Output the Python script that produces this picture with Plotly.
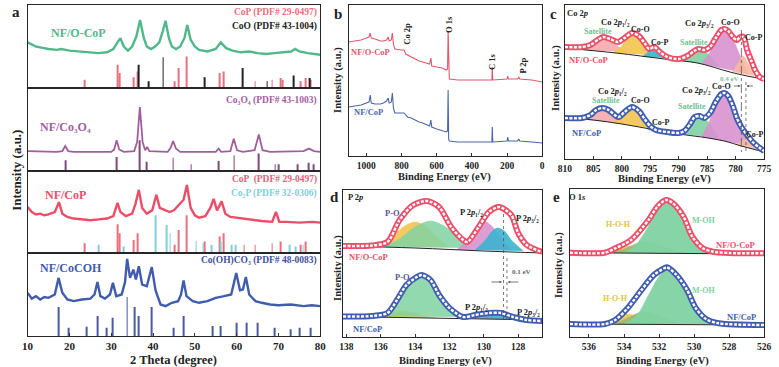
import plotly.graph_objects as go

SERIF = "Liberation Serif, DejaVu Serif, Times New Roman, serif"
W, H = 779, 367

# ================= DATA =================
# ---- Panel a: XRD, (2theta, relative intensity inside each strip 0..1)
two_theta_ticks = [10, 20, 30, 40, 50, 60, 70, 80]

xrd_ocop = [(10, .55), (11, .52), (12, .5), (13, .49), (15, .47), (17, .46), (18, .47), (20, .45), (22, .44),
            (25, .43), (27, .42), (29, .43), (30.5, .47), (31.5, .55), (32.2, .6), (33, .5), (34, .45), (35, .5),
            (36, .62), (36.9, .82), (37.8, .6), (38.5, .5), (39.5, .47), (40.5, .5), (41.5, .55), (42.3, .68),
            (43, .81), (43.8, .6), (44.5, .5), (45.5, .47), (46.5, .5), (47.5, .6), (48.2, .76), (49, .58),
            (50, .5), (51, .46), (52, .45), (53, .44), (55, .47), (56.2, .55), (57.5, .48), (59, .45), (61, .43),
            (63, .44), (65, .42), (67, .41), (69, .42), (71, .43), (73, .44), (74, .47), (75, .44), (77, .42),
            (79, .41), (80, .4)]
xrd_co3o4 = [(10, .24), (17, .23), (18.3, .24), (19, .3), (19.7, .24), (21, .23), (30, .23), (30.7, .26),
             (31.3, .37), (31.9, .26), (33, .23), (35.5, .24), (36.2, .35), (36.85, .77), (37.5, .35), (38.1, .25),
             (38.6, .29), (39.1, .24), (43.5, .23), (44.2, .28), (44.8, .36), (45.5, .27), (46.5, .23), (55, .23),
             (55.7, .27), (56.3, .23), (58.5, .24), (59.3, .39), (60.1, .25), (61.5, .23), (64.3, .25), (65.3, .44),
             (66.2, .25), (68, .23), (76, .24), (77.3, .27), (78.5, .24), (80, .23)]
xrd_cop = [(10, .56), (11, .5), (12, .47), (13, .48), (14, .46), (15, .47), (16.5, .5), (17.5, .62), (18.3, .48),
           (19.5, .44), (21, .42), (23, .41), (25, .4), (27, .41), (29, .42), (30.5, .45), (31.5, .61), (32.2, .5),
           (33.5, .45), (35, .48), (35.8, .6), (36.6, .77), (37.4, .55), (38.5, .48), (39.8, .52), (40.8, .71),
           (41.6, .55), (43, .52), (44, .5), (45, .52), (46, .58), (47.3, .65), (48.1, .83), (49, .55), (50, .46),
           (51, .43), (52.5, .45), (53.7, .55), (54.5, .66), (55.3, .52), (56.4, .63), (57.3, .48), (58.5, .44),
           (60, .43), (62, .42), (64, .4), (66, .39), (68.5, .38), (69.4, .5), (70.2, .38), (72, .38), (75, .37),
           (78, .38), (80, .37)]
xrd_cocoh = [(10, .52), (11, .45), (12, .48), (13, .44), (14, .47), (15, .46), (16.5, .5), (17.4, .7), (18.3, .52),
             (19.5, .44), (21, .42), (23, .44), (25, .45), (26, .5), (26.7, .65), (27.4, .48), (28.5, .45),
             (29.7, .5), (30.4, .64), (31.2, .48), (32.5, .5), (33.3, .65), (33.8, .93), (34.5, .7), (35.3, .8),
             (35.9, .68), (36.6, .84), (37.4, .62), (38.5, .6), (39.7, .83), (40.6, .55), (41.8, .38), (43, .36),
             (44.5, .4), (46, .42), (46.7, .5), (47.3, .67), (48, .48), (49.5, .42), (51, .4), (53, .42), (55, .46),
             (57, .48), (58.7, .5), (59.9, .76), (60.8, .55), (61.5, .56), (62.2, .71), (63, .5), (64.5, .42),
             (66, .4), (68, .38), (70, .37), (73, .38), (76, .36), (78, .37), (80, .36)]

# reference sticks (position, height)
pdf_cop_a = [(23.7, .1), (31.6, .28), (32.0, .18), (35.3, .13), (36.4, .2), (45.1, .08), (46.2, .24), (48.1, .38),
             (56.0, .18), (56.8, .2), (64.4, .08), (68.5, .1), (70.5, .12), (71.0, .1), (75.3, .08), (76.5, .12),
             (77.6, .1)]
pdf_coo = [(36.5, .28), (39.0, .08), (42.4, .37), (52.4, .13), (61.5, .24), (67.3, .08), (73.7, .15), (77.5, .12)]
pdf_co3o4 = [(19.0, .13), (31.3, .17), (36.8, .37), (38.5, .11), (44.8, .16), (49.1, .08), (55.7, .12), (59.4, .19),
             (65.2, .21), (69.2, .08), (70.0, .08), (74.6, .08), (77.3, .1), (78.4, .08)]
pdf_cop_c = [(23.7, .12), (31.6, .35), (32.0, .24), (35.3, .16), (36.4, .24), (45.1, .1), (46.2, .28), (48.1, .46),
             (52.3, .14), (56.0, .2), (56.8, .24), (61.8, .1), (64.4, .1), (68.5, .12), (70.5, .14), (75.3, .1),
             (76.5, .14)]
pdf_co2p = [(26.9, .1), (32.9, .08), (40.7, .46), (43.3, .34), (44.1, .24), (50.3, .15), (52.0, .12), (54.1, .1),
            (56.2, .14), (58.7, .1), (59.8, .1), (72.6, .1), (74.2, .08), (75.9, .1)]
pdf_cocoh = [(17.4, .35), (19.9, .1), (24.1, .11), (26.8, .24), (28.9, .1), (30.4, .22), (33.8, .47), (35.5, .35),
             (36.6, .24), (39.6, .35), (44.9, .1), (47.4, .24), (54.3, .12), (56.1, .12), (59.9, .16), (62.3, .16),
             (65.1, .16), (69.0, .1), (73.0, .08), (75.0, .1), (77.6, .1)]

# ---- Panel b: survey XPS (binding energy, intensity)
survey_ticks = [1000, 800, 600, 400, 200, 0]
survey_ocop = [(1100, 114), (1060, 115), (1030, 116), (1000, 118), (985, 119), (978, 123), (972, 118), (950, 117),
               (920, 115), (903, 115), (885, 116), (876, 119), (870, 115), (858, 116), (852, 123), (846, 112),
               (838, 107), (800, 106), (785, 106), (776, 102), (765, 101), (745, 99), (725, 97), (700, 95),
               (680, 94), (665, 93), (640, 92), (633, 98), (628, 90), (600, 89), (570, 88), (545, 86), (538, 87),
               (535, 125), (532, 80), (528, 77), (480, 76), (400, 76), (300, 76), (286, 76), (284, 89), (281, 76),
               (200, 77), (196, 80), (192, 77), (140, 77), (133, 79), (128, 77), (60, 76), (0, 74)]
survey_cop = [(1100, 49), (1060, 50), (1030, 51), (1000, 53), (985, 54), (978, 61), (972, 53), (950, 52), (920, 52),
              (903, 53), (885, 55), (876, 58), (870, 53), (858, 54), (852, 63), (846, 48), (838, 43), (800, 43),
              (785, 43), (776, 41), (765, 39), (745, 38), (725, 36), (700, 34), (680, 33), (665, 32), (640, 30),
              (633, 36), (628, 29), (600, 27), (570, 25), (545, 24), (538, 25), (535, 66), (532, 17), (528, 15),
              (480, 14), (400, 14), (300, 14), (286, 14), (284, 29), (281, 14), (200, 15), (196, 19), (192, 15),
              (140, 15), (133, 17), (128, 15), (60, 14), (0, 13)]

# ---- Panel c: Co 2p
co2p_ticks = [810, 805, 800, 795, 790, 785, 780, 775]
co2p_ocop_env = [(810, 113), (807, 113), (805.5, 115), (804, 121), (803.2, 123), (802, 121), (800.7, 118),
                 (799.5, 122), (798.2, 127), (797, 124), (796, 117), (795.2, 111), (794.3, 113), (793.3, 108),
                 (792, 103), (790, 101), (788.5, 104), (787.3, 109), (786.5, 111), (785.5, 110), (784.5, 113),
                 (783.5, 122), (782.5, 130), (782, 131), (781.3, 129), (780.5, 123), (779.8, 120), (779.2, 123),
                 (778.6, 123), (778, 110), (777.3, 100), (776.6, 90), (775.8, 83), (775, 81)]
co2p_ocop_bg = [(810, 112), (801, 107), (792.5, 101), (786.7, 97), (781, 88), (778, 84), (775, 81)]
co2p_ocop_comps = {
    "sat1": [(807.5, 110), (806, 113), (804.5, 119), (803.2, 122), (802, 119), (800.5, 113), (799, 108)],
    "coo1": [(801.5, 107), (800, 114), (799, 122), (798.2, 126), (797.3, 123), (796.2, 115), (795, 105)],
    "cop1": [(796.5, 103), (795.3, 108), (794.3, 112), (793.3, 108), (792.2, 102)],
    "sat2": [(790, 99), (788.3, 104), (787, 110), (786.3, 111), (785.5, 109), (784.3, 103), (783, 94)],
    "coo2": [(786, 96), (784.5, 108), (783.3, 122), (782.2, 131), (781, 127), (780, 115), (778.8, 98), (777.8, 86)],
    "cop2": [(780.5, 88), (779.5, 98), (778.7, 104), (777.8, 96), (776.8, 84)],
}
co2p_cop_env = [(810, 42), (807, 42), (805.5, 45), (804.5, 50), (803.4, 52), (802.3, 50), (801, 44), (800.5, 43),
                (799.5, 48), (798.2, 53), (797, 49), (796, 41), (795, 34), (794, 30), (792, 28), (790, 27),
                (789, 29), (788, 36), (787.2, 43), (786.3, 44), (785.5, 42), (784.5, 47), (783.5, 58), (782.5, 66),
                (782, 67), (781.3, 64), (780.5, 54), (779.8, 42), (779, 33), (778, 25), (777, 18), (776, 13),
                (775, 9)]
co2p_cop_bg = [(810, 42), (805, 40), (800, 36), (795, 31), (790, 26), (786, 23), (782, 19), (779, 14), (777, 11),
               (775, 8)]
co2p_cop_comps = {
    "sat1": [(807.5, 41), (806, 44), (804.6, 49), (803.4, 51), (802.2, 48), (800.8, 42), (799.5, 36)],
    "coo1": [(801.5, 37), (800.2, 44), (799.2, 50), (798.2, 52), (797.2, 49), (796.2, 41), (795, 32)],
    "cop1": [(795.5, 30), (794.3, 33), (793, 29)],
    "sat2": [(789.5, 26), (788.2, 33), (787, 41), (786.2, 43), (785.3, 41), (784.2, 33), (783, 22)],
    "coo2": [(786, 23), (784.8, 36), (783.6, 54), (782.3, 66), (781.2, 62), (780.2, 48), (779, 30), (777.5, 14)],
    "cop2": [(780, 15), (779, 19), (778.3, 21), (777.5, 17), (776.5, 10)],
}
co2p_shift_lines = [779.0, 778.2]

# ---- Panel d: P 2p
p2p_ticks = [138, 136, 134, 132, 130, 128]
p2p_ocop_env = [(138.2, 94), (136.5, 94.5), (135.6, 98), (134.9, 120), (134.1, 135), (133.3, 139), (132.6, 133),
                (131.9, 113), (131.2, 100), (130.95, 98), (130.3, 113), (129.7, 128), (129.1, 133), (128.4, 125),
                (128, 107), (127.5, 95), (126.6, 88)]
p2p_ocop_bg = [(138.2, 94), (134, 92), (130, 89), (126.6, 87)]
p2p_ocop_comps = {
    "po_a": [(136.5, 94), (135.5, 102), (134.6, 114), (134, 118), (133.4, 114), (132.7, 102), (132, 93)],
    "po_b": [(136, 93), (135, 100), (134, 113), (133.1, 119), (132.2, 113), (131.5, 102), (130.8, 92)],
    "p12": [(131.6, 90), (130.8, 102), (130.3, 115), (130, 119), (129.6, 115), (129, 102), (128.4, 90)],
    "p32": [(130.5, 90), (129.9, 100), (129.5, 109), (129.2, 112), (128.8, 109), (128.4, 100), (127.7, 89)],
}
p2p_cop_env = [(138.2, 23.5), (136.5, 24), (135.6, 27), (135.05, 40), (134.5, 55), (133.9, 63), (133.6, 65),
               (133.1, 60), (132.6, 45), (132, 32), (131.2, 23), (130.5, 25), (129.7, 27), (129, 27), (128.3, 23),
               (127.5, 20), (126.6, 19)]
p2p_cop_bg = [(138.2, 23.5), (126.6, 20)]
p2p_cop_comps = {
    "po_a": [(136.2, 23), (135.3, 27), (134.8, 29), (134.2, 28), (133.5, 24), (132.8, 22)],
    "po_b": [(136, 23.5), (135.2, 36), (134.5, 53), (133.8, 62), (133.1, 58), (132.4, 44), (131.7, 30), (131, 23)],
    "p12": [(131.2, 21.5), (130.5, 23.5), (130, 25), (129.4, 23.5), (128.8, 21)],
    "p32": [(130.2, 21.5), (129.6, 24.5), (129.1, 26.5), (128.6, 24.5), (127.9, 21)],
}
p2p_shift_lines = [128.85, 128.65]

# ---- Panel e: O 1s
o1s_ticks = [536, 534, 532, 530, 528, 526]
o1s_ocop_env = [(537.1, 87.3), (535.1, 87.3), (534.5, 91.7), (533.6, 100), (532.6, 120), (532.1, 133.3),
                (531.6, 140), (531.2, 136.7), (530.6, 123.3), (530.1, 103.3), (529.5, 91.7), (528.9, 88.3),
                (528, 87), (526, 86.7)]
o1s_ocop_bg = [(537.1, 87.3), (526, 86)]
o1s_ocop_comps = {
    "hoh": [(535.5, 87), (534.6, 91), (534, 94), (533.4, 93), (532.7, 89), (532, 86.5)],
    "olive": [(535, 87), (534, 91), (533.2, 97), (532.7, 98), (532, 95), (531, 89), (530.5, 87)],
    "moh": [(534.2, 87), (533.5, 92), (532.8, 108), (532.2, 127), (531.6, 139), (531, 134), (530.4, 118),
            (529.8, 100), (529.2, 90), (528.6, 86.5)],
}
o1s_cop_env = [(537.1, 16), (535.1, 16), (534.5, 20), (533.8, 31.7), (533, 50), (532.3, 65), (531.7, 71.7),
               (531.55, 72.7), (531, 65), (530.4, 50), (529.9, 31.7), (529.3, 20.7), (528.6, 16.7), (526, 15)]
o1s_cop_bg = [(537.1, 16), (526, 15)]
o1s_cop_comps = {
    "hoh": [(535.3, 16), (534.5, 22), (533.9, 26), (533.3, 24), (532.6, 18), (532.1, 16)],
    "olive": [(534.5, 16), (533.7, 23), (533, 28), (532.4, 27), (531.6, 21), (530.8, 16)],
    "moh": [(534, 16), (533.3, 24), (532.6, 45), (532.1, 61), (531.6, 71), (531, 66), (530.4, 50), (529.8, 32),
            (529.2, 21), (528.6, 16)],
}

# ================= STYLE =================
C_GREEN = "#4fb98a"
C_PURPLE = "#a35d9d"
C_RED = "#ee4d68"
C_BLUE = "#3f5cae"
C_COP_STICK = "#e8707e"
C_COO_STICK = "#222222"
C_CO3O4_STICK = "#7d4a7a"
C_CO2P_STICK = "#80d0da"
C_COCOH_STICK = "#4a5aa0"
FILL = {
    "sat1": "rgba(245,165,168,0.85)", "coo1": "rgba(243,196,79,0.9)", "cop1": "rgba(59,180,207,0.9)",
    "sat2": "rgba(128,210,162,0.9)", "coo2": "rgba(216,145,207,0.9)", "cop2": "rgba(246,185,158,0.9)",
    "po_a": "rgba(243,196,79,0.9)", "po_b": "rgba(128,210,162,0.85)", "p12": "rgba(216,145,207,0.9)",
    "p32": "rgba(59,180,207,0.9)", "hoh": "rgba(243,196,79,0.9)", "olive": "rgba(157,181,117,0.9)",
    "moh": "rgba(128,210,162,0.95)",
}


def xy(pts):
    return [p[0] for p in pts], [p[1] for p in pts]


def px(x):
    return x / W


def py(y):
    return 1 - y / H


fig = go.Figure()


def axn(i, kind):
    return kind if i == 1 else f"{kind}{i}"


def line_trace(pts, color, i, width=1.0, shape="linear"):
    x, y = xy(pts)
    fig.add_trace(go.Scatter(x=x, y=y, mode="lines", line=dict(color=color, width=width, shape=shape),
                             xaxis=axn(i, "x"), yaxis=axn(i, "y"), hoverinfo="skip"))


def sticks(pts, color, i):
    x, y = xy(pts)
    fig.add_trace(go.Bar(x=x, y=y, width=0.2, marker=dict(color=color, line=dict(width=0)),
                         xaxis=axn(i, "x"), yaxis=axn(i, "y"), hoverinfo="skip"))


def comp(pts, key, i):
    x, y = xy(pts)
    fig.add_trace(go.Scatter(x=x, y=y, mode="lines", fill="toself", fillcolor=FILL[key],
                             line=dict(color=FILL[key], width=0.5, shape="spline", smoothing=0.9),
                             xaxis=axn(i, "x"), yaxis=axn(i, "y"), hoverinfo="skip"))


def tube(pts, color, i):
    x, y = xy(pts)
    fig.add_trace(go.Scatter(x=x, y=y, mode="lines", line=dict(color=color, width=6, shape="spline", smoothing=0.8),
                             xaxis=axn(i, "x"), yaxis=axn(i, "y"), hoverinfo="skip"))
    fig.add_trace(go.Scatter(x=x, y=y, mode="lines",
                             line=dict(color="white", width=2.4, shape="spline", smoothing=0.8, dash="3px,1.5px"),
                             xaxis=axn(i, "x"), yaxis=axn(i, "y"), hoverinfo="skip"))


def spectrum(comps, bg, env, color, i):
    for k, pts in comps.items():
        comp(pts, k, i)
    line_trace(bg, "#222222", i, width=1.0, shape="spline")
    tube(env, color, i)


# ---- panel a
line_trace(xrd_ocop, C_GREEN, 1, width=2.4)
sticks(pdf_cop_a, C_COP_STICK, 1)
sticks(pdf_coo, C_COO_STICK, 1)
line_trace(xrd_co3o4, C_PURPLE, 2, width=1.8)
sticks(pdf_co3o4, C_CO3O4_STICK, 2)
line_trace(xrd_cop, C_RED, 3, width=2.4)
sticks(pdf_cop_c, C_COP_STICK, 3)
sticks(pdf_co2p, C_CO2P_STICK, 3)
line_trace(xrd_cocoh, C_BLUE, 4, width=2.4)
sticks(pdf_cocoh, C_COCOH_STICK, 4)

# ---- panel b
line_trace(survey_ocop, "#e0586c", 5, width=1.1)
line_trace(survey_cop, "#4a66a8", 5, width=1.1)

# ---- panel c
spectrum(co2p_ocop_comps, co2p_ocop_bg, co2p_ocop_env, C_RED, 6)
spectrum(co2p_cop_comps, co2p_cop_bg, co2p_cop_env, C_BLUE, 6)
# ---- panel d
spectrum(p2p_ocop_comps, p2p_ocop_bg, p2p_ocop_env, C_RED, 7)
spectrum(p2p_cop_comps, p2p_cop_bg, p2p_cop_env, C_BLUE, 7)
# ---- panel e
spectrum(o1s_ocop_comps, o1s_ocop_bg, o1s_ocop_env, C_RED, 8)
spectrum(o1s_cop_comps, o1s_cop_bg, o1s_cop_env, C_BLUE, 8)

# ================= AXES =================
boxes = {
    1: ((21, 319), (5, 88)), 2: ((21, 319), (88, 171)), 3: ((21, 319), (171, 253)), 4: ((21, 319), (253, 336)),
    5: ((348, 545), (5, 156)), 6: ((568, 771), (5, 159)), 7: ((342, 545), (190, 337)), 8: ((573, 771), (189, 337)),
}
xranges = {1: [10, 80], 2: [10, 80], 3: [10, 80], 4: [10, 80], 5: [1100, 0], 6: [810, 775],
           7: [138.2, 126.6], 8: [537.1, 526]}
yranges = {1: [0, 1], 2: [0, 1], 3: [0, 1], 4: [0, 1], 5: [0, 151], 6: [1, 155], 7: [3, 150], 8: [3, 151]}
xticks = {4: two_theta_ticks, 5: survey_ticks, 6: co2p_ticks, 7: p2p_ticks, 8: o1s_ticks}

layout = {}
for i, ((x0, x1), (y0, y1)) in boxes.items():
    xa = dict(domain=[px(x0), px(x1)], range=xranges[i], anchor=axn(i, "y"), showline=True, mirror=True,
              linecolor="#262626", linewidth=1.2, showgrid=False, zeroline=False, fixedrange=True)
    if i in xticks:
        xa.update(tickmode="array", tickvals=xticks[i], ticks="inside", ticklen=3, tickcolor="#333",
                  tickfont=dict(family=SERIF, size=11 if i == 4 else 9.5, color="#222", weight="bold"))
    else:
        xa.update(showticklabels=False, ticks="")
    ya = dict(domain=[py(y1), py(y0)], range=yranges[i], anchor=axn(i, "x"), showline=True, mirror=True,
              linecolor="#262626", linewidth=1.2, showgrid=False, zeroline=False, showticklabels=False, ticks="",
              fixedrange=True)
    layout[f"xaxis{i}" if i > 1 else "xaxis"] = xa
    layout[f"yaxis{i}" if i > 1 else "yaxis"] = ya

ann = []


def A(text, x, y, size=9, color="#222", anchor="center", angle=0, bold=True):
    ann.append(dict(text=text, x=px(x), y=py(y), xref="paper", yref="paper", showarrow=False,
                    xanchor=anchor, yanchor="middle", textangle=angle,
                    font=dict(family=SERIF, size=size, color=color, weight="bold" if bold else "normal")))


def arrow(x_tip, y, dx):
    ann.append(dict(text="", x=px(x_tip), y=py(y), xref="paper", yref="paper", showarrow=True,
                    ax=dx, ay=0, arrowhead=2, arrowsize=0.6, arrowwidth=0.8, arrowcolor="#555"))


# panel letters
A("a", 9, 12, 15)
A("b", 337, 14, 15)
A("c", 557, 14, 15)
A("d", 334, 197, 15)
A("e", 560, 197, 15)

# panel a text
A("Intensity (a.u.)", 10, 170, 13, angle=-90)
A("2 Theta (degree)", 170, 360, 12.5)
A("NF/O-CoP", 73, 33, 12, C_GREEN)
A("CoP (PDF# 29-0497)", 318, 13, 9.5, C_COP_STICK, anchor="right")
A("CoO (PDF# 43-1004)", 318, 27, 9.5, "#222", anchor="right")
A("NF/Co₃O₄", 60, 127, 12, C_PURPLE)
A("Co₃O₄ (PDF# 43-1003)", 318, 100, 9.5, C_PURPLE, anchor="right")
A("NF/CoP", 60, 195, 12, C_RED)
A("CoP  (PDF# 29-0497)", 318, 179, 9.5, "#e8607a", anchor="right")
A("Co₂P (PDF# 32-0306)", 318, 193, 9.5, "#7fd0d8", anchor="right")
A("NF/CoCOH", 65, 268, 12, C_BLUE)
A("Co(OH)CO₃ (PDF# 48-0083)", 318, 260, 9.5, "#3f4f98", anchor="right")

# panel b text
A("Intensity (a.u.)", 337, 80, 10.5, angle=-90)
A("Binding Energy (eV)", 446, 177, 10.5)
A("Co 2p", 407, 34, 8.5, angle=-90)
A("O 1s", 450, 24, 8.5, angle=-90)
A("C 1s", 494, 62, 8.5, angle=-90)
A("P 2p", 525, 66, 8.5, angle=-90)
A("NF/O-CoP", 370, 52, 8.5, "#e0586c")
A("NF/CoP", 368, 112, 8.5, "#4a66a8")

# panel c text
A("Intensity (a.u.)", 559, 78, 10.5, angle=-90)
A("Binding Energy (eV)", 670, 179, 10.5)
A("Co 2<i>p</i>", 581, 13, 8.5)
A("Co 2<i>p</i>₁/₂", 620, 22, 8.5)
A("Satellite", 602, 32, 8, "#6cc48f")
A("Co-O", 645, 30, 8)
A("Co-P", 664, 43, 8)
A("Satellite", 700, 42, 8, "#6cc48f")
A("Co 2<i>p</i>₃/₂", 705, 23, 8.5)
A("Co-O", 737, 22, 8)
A("Co-P", 760, 37, 8)
A("NF/O-CoP", 592, 60, 8.5, C_RED)
A("0.4 eV", 736, 79, 7, "#7fbf8f")
A("Co 2<i>p</i>₁/₂", 617, 91, 8.5)
A("Satellite", 610, 100, 8, "#6cc48f")
A("Co-O", 645, 101, 8)
A("Co-P", 665, 123, 8)
A("Co 2<i>p</i>₃/₂", 702, 90, 8.5)
A("Co-O", 728, 86, 8)
A("Satellite", 698, 107, 8, "#6cc48f")
A("Co-P", 761, 134, 8)
A("NF/CoP", 590, 133, 8.5, C_BLUE)
arrow(747, 86, -8)
arrow(753, 86, 8)

# panel d text
A("Intensity (a.u.)", 337, 268, 10.5, angle=-90)
A("Binding Energy (eV)", 447, 361, 10.5)
A("P 2<i>p</i>", 355, 197, 8.5)
A("P-O", 393, 213, 8.5, "#55579a")
A("P 2<i>p</i>₁/₂", 473, 212, 8.5)
A("P 2<i>p</i>₃/₂", 530, 218, 8.5)
A("NF/O-CoP", 368, 257, 8.5, C_RED)
A("0.1 eV", 524, 272, 7, "#666")
A("P-O", 403, 277, 8.5, "#55579a")
A("P 2<i>p</i>₁/₂", 478, 307, 8.5)
A("P 2<i>p</i>₃/₂", 531, 312, 8.5)
A("NF/CoP", 367, 329, 8.5, C_BLUE)
arrow(504, 282, -12)
arrow(510, 282, 12)

# panel e text
A("Intensity (a.u.)", 562, 265, 10.5, angle=-90)
A("Binding Energy (eV)", 668, 361, 10.5)
A("O 1<i>s</i>", 581, 197, 8.5)
A("H-O-H", 623, 225, 8, "#e2bf4a")
A("M-OH", 709, 220, 8, "#7fcf9f")
A("NF/O-CoP", 742, 245, 8.5, C_RED)
A("H-O-H", 620, 298, 8, "#e2bf4a")
A("M-OH", 709, 290, 8, "#7fcf9f")
A("NF/CoP", 748, 317, 8.5, C_BLUE)

shapes = [
    dict(type="line", xref="x6", yref="y6", x0=co2p_shift_lines[0], x1=co2p_shift_lines[0], y0=130, y1=8,
         line=dict(color="#555", width=0.8, dash="dashdot")),
    dict(type="line", xref="x6", yref="y6", x0=co2p_shift_lines[1], x1=co2p_shift_lines[1], y0=78, y1=7,
         line=dict(color="#555", width=0.8, dash="dot")),
    dict(type="line", xref="x7", yref="y7", x0=p2p_shift_lines[0], x1=p2p_shift_lines[0], y0=126, y1=20,
         line=dict(color="#555", width=0.8, dash="dot")),
    dict(type="line", xref="x7", yref="y7", x0=p2p_shift_lines[1], x1=p2p_shift_lines[1], y0=82, y1=20,
         line=dict(color="#555", width=0.8, dash="dot")),
]

fig.update_layout(width=W, height=H, margin=dict(l=0, r=0, t=0, b=0), paper_bgcolor="white",
                  plot_bgcolor="white", showlegend=False, barmode="overlay", annotations=ann, shapes=shapes,
                  **layout)
fig.write_html("out.html", config={"displayModeBar": False},
               post_script="document.body.style.margin='0';document.body.style.overflow='hidden';")
